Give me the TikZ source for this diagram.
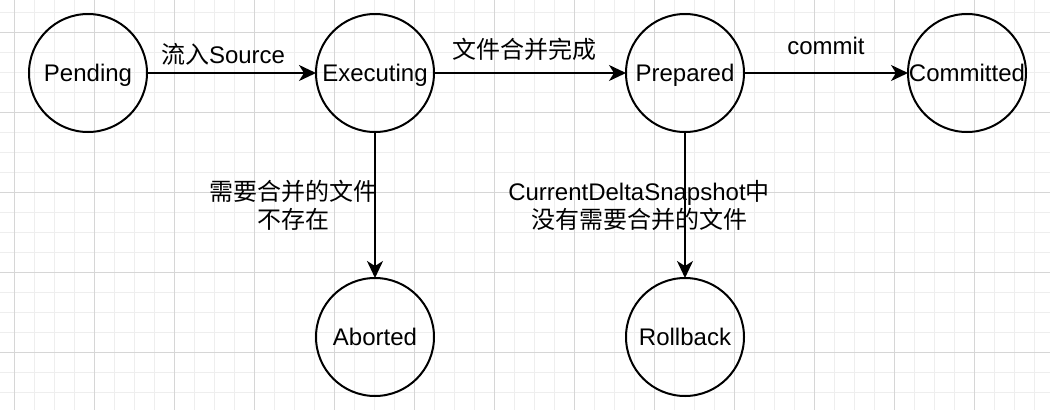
\documentclass[tikz,border=0pt]{standalone}
\usepackage{fontspec}
\setmainfont{Liberation Sans}
\newfontfamily\cjk{Noto Sans CJK SC}
\usetikzlibrary{arrows.meta,automata,positioning}

\definecolor{gridminor}{HTML}{EEEEEE}
\definecolor{gridmajor}{HTML}{D6D6D6}

\begin{document}
\begin{tikzpicture}[x=1pt,y=-1pt,>={Stealth[length=17pt,width=16pt,inset=5pt]},
                    auto,line width=2pt,font=\fontsize{24}{28}\selectfont,
                    every state/.style={draw,minimum size=118pt,inner sep=0pt,
                                        outer sep=0pt,line width=2pt,
                                        text height=17.2pt,text depth=0pt}]

  \useasboundingbox[fill=white] (0,0) rectangle (1050,410);
  \foreach \x in {14,34,...,1050} \draw[gridminor,line width=1pt] (\x,0) -- (\x,410);
  \foreach \y in {12,32,...,410} \draw[gridminor,line width=1pt] (0,\y) -- (1050,\y);
  \foreach \x in {14,94,...,1050} \draw[gridmajor,line width=1pt] (\x,0) -- (\x,410);
  \foreach \y in {32,112,...,410} \draw[gridmajor,line width=1pt] (0,\y) -- (1050,\y);

  \node[state] (pend) at (88,73)      {Pending};
  \node[state] (exec) [right=169pt of pend] {Executing};
  \node[state] (prep) [right=192pt of exec] {Prepared};
  \node[state] (comm) [right=164pt of prep] {Committed};
  \node[state] (abrt) [below=146pt of exec] {Aborted};
  \node[state] (roll) [below=146pt of prep] {Rollback};

  \path[->] (pend) edge node[pos=.45,yshift=3pt] {{\cjk 流入}Source} (exec)
            (exec) edge node[pos=.47,yshift=8pt] {\cjk 文件合并完成} (prep)
                   edge node[auto=false,xshift=-82pt,align=center]
                        {{\cjk 需要合并的文件}\\{\cjk 不存在}} (abrt)
            (prep) edge node[yshift=14pt] {commit} (comm)
                   edge node[auto=false,xshift=-46pt,align=center]
                        {CurrentDeltaSnapshot{\cjk 中}\\{\cjk 没有需要合并的文件}} (roll);
\end{tikzpicture}
\end{document}
